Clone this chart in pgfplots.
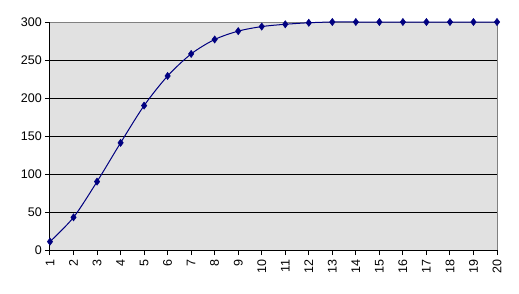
\documentclass[border=0pt]{standalone}
\usepackage{pgfplots}
\pgfplotsset{compat=1.18}
\usepackage{fontspec}
\setmainfont{Liberation Sans}
\definecolor{plotbg}{RGB}{225,225,225}
\definecolor{navyline}{RGB}{0,0,128}
\begin{document}
\begin{tikzpicture}[x=1pt,y=1pt]
\useasboundingbox (0,0) rectangle (519,293);
\begin{axis}[
  at={(50pt,43pt)}, anchor=south west,
  scale only axis, width=447pt, height=228pt,
  xmin=1, xmax=20, ymin=0, ymax=300,
  xtick={1,...,20}, ytick={0,50,...,300},
  axis x line*=bottom, axis y line*=left,
  axis line style={black, line width=1pt, -},
  axis background/.style={fill=plotbg, draw=gray, line width=1pt},
  extra y ticks={50,100,...,250}, extra y tick labels={},
  extra y tick style={ymajorgrids=true, major tick length=0pt},
  grid style={black, line width=1pt},
  tick align=outside, major tick length=5pt,
  tick style={black, line width=1pt},
  tick label style={font=\fontsize{12.5}{14}\selectfont},
  /pgf/number format/assume math mode=true,
  xticklabel style={rotate=90, anchor=east, inner sep=4.5pt},
  yticklabel style={inner sep=3pt},
  clip=false,
]
\addplot[navyline, line width=1pt, smooth, tension=0.5, mark=diamond*, mark size=3.6pt, mark options={fill=navyline, draw=navyline, line width=0.5pt}]
coordinates {
(1,11) (2,43) (3,90) (4,141) (5,190) (6,229) (7,258) (8,277) (9,288) (10,294)
(11,297) (12,299) (13,300) (14,300) (15,300) (16,300) (17,300) (18,300) (19,300) (20,300)
};
\end{axis}
\end{tikzpicture}
\end{document}
